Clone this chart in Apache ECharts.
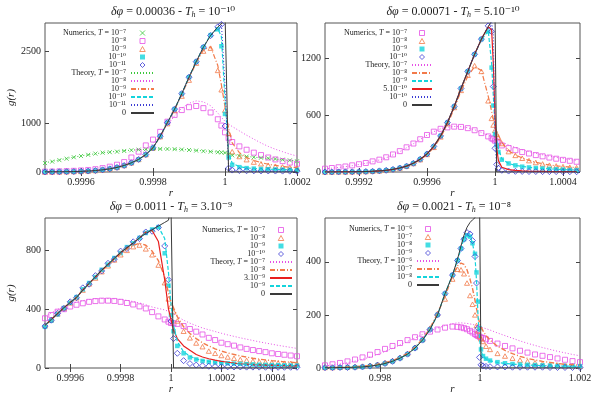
<!DOCTYPE html>
<html>
<head>
<meta charset="utf-8">
<script src="https://cdn.jsdelivr.net/npm/echarts@6/dist/echarts.min.js"></script>
</head>
<body style="margin:0;background:#fff">
<div id="main" style="width:599px;height:399px;"></div>
<script>
// ---- panel 1 : dphi = 0.00036 ----
var r1 = [0.99950,0.99952,0.99954,0.99956,0.99958,0.99960,0.99962,0.99964,0.99966,0.99968,
  0.99970,0.99972,0.99974,0.99976,0.99978,0.99980,0.99982,0.99984,0.99986,0.99988,
  0.99990,0.99992,0.99994,0.99996,0.99998,0.99999,1.00000,1.00001,
  1.00002,1.00004,1.00006,1.00008,1.00010,1.00012,1.00014,1.00016,1.00018,1.00020];
var num1_e7  = [185,215,245,275,305,330,355,380,400,410,420,435,450,462,470,475,477,476,472,465,455,443,430,420,410,405,398,370,345,330,318,305,295,283,270,255,240,222];
var num1_e8  = [8,10,14,18,24,32,42,58,80,110,150,205,300,420,550,670,830,1040,1180,1280,1340,1364,1320,1230,1090,960,820,700,620,530,460,400,350,300,260,225,195,170];
var num1_e9  = [2,3,4,6,9,13,20,30,45,65,95,135,190,260,360,500,730,1000,1270,1570,1900,2250,2500,2560,2100,1700,1280,800,420,320,255,205,170,140,120,105,90,80];
var num1_e10 = [2,3,4,6,9,13,20,30,45,65,95,135,190,260,360,500,740,1020,1300,1620,1960,2280,2580,2830,2950,2600,1200,300,150,100,80,70,62,57,53,50,47,45];
var num1_e11 = [2,3,4,6,9,13,20,30,45,65,95,135,190,260,360,500,740,1020,1300,1620,1960,2280,2580,2820,3000,3050,950,80,40,30,26,24,22,21,20,19,18,17];
var th1_e7  = [190,220,250,280,308,333,357,378,397,413,427,440,452,462,470,475,477,476,472,466,458,448,437,425,412,405,398,380,362,340,322,306,292,279,266,253,240,228];
var th1_e8  = [5,6,8,11,15,20,28,40,56,80,112,160,230,320,440,590,770,970,1160,1320,1420,1470,1450,1370,1220,1130,1050,990,940,850,760,680,600,530,470,420,370,330];
var th1_e9  = [2,3,4,6,9,13,20,30,45,65,95,135,190,260,360,500,735,1010,1290,1600,1930,2260,2520,2590,2200,1800,1350,900,600,400,300,240,195,160,135,115,100,88];
var th1_e10 = [2,3,4,6,9,13,20,30,45,65,95,135,190,260,360,500,740,1020,1300,1620,1960,2280,2580,2840,2960,2800,1500,400,180,110,85,72,64,58,54,50,47,45];
var th1_e11 = [2,3,4,6,9,13,20,30,45,65,95,135,190,260,360,500,740,1020,1300,1620,1960,2280,2580,2820,3000,3070,1800,80,25,18,16,15,14,13,12,12,11,11];
var th1_0   = [2,3,4,6,9,13,20,30,45,65,95,135,190,260,360,500,740,1020,1300,1620,1960,2280,2580,2820,3000,3060,3300,0,0,0,0,0,0,0,0,0,0,0];
var xt1 = [0.9996, 0.9998, 1, 1.0002];
var yt1 = [0, 1000, 2500];

// ---- panel 2 : dphi = 0.00071 ----
var r2 = [0.99900,0.99904,0.99908,0.99912,0.99916,0.99920,0.99924,0.99928,0.99932,0.99936,
  0.99940,0.99944,0.99948,0.99952,0.99956,0.99960,0.99964,0.99968,0.99972,0.99976,
  0.99980,0.99984,0.99988,0.99992,0.99996,0.99998,0.99999,1.00000,1.00001,1.00002,
  1.00004,1.00008,1.00012,1.00016,1.00020,1.00024,1.00028,1.00032,1.00036,1.00040,1.00044,1.00048];
var num2_e7  = [35,42,50,58,70,82,95,112,130,155,185,220,260,300,345,390,425,455,470,478,475,462,440,410,375,355,345,330,320,310,280,252,230,210,195,178,165,152,140,128,118,108];
var num2_e8  = [0,0,1,1,2,3,5,8,12,18,28,42,62,90,130,185,260,370,510,680,860,1020,1120,1060,750,565,495,440,400,365,300,215,175,145,120,100,85,72,64,57,51,46];
var num2_e9  = [0,0,1,1,2,3,5,8,12,18,28,42,62,92,135,190,270,380,520,690,880,1060,1240,1400,1480,1100,700,400,280,210,130,90,70,56,48,42,37,33,29,26,23,20];
var num2_e10 = [0,0,1,1,2,3,5,8,12,18,28,42,62,92,135,190,270,380,520,690,880,1060,1240,1400,1540,1480,900,250,80,40,18,10,7,6,5,5,4,4,4,3,3,3];
var th2_e7   = [33,40,48,56,67,79,92,108,127,150,180,215,255,298,343,388,425,455,472,480,478,466,445,418,388,372,365,357,350,343,315,285,258,235,215,197,181,167,154,142,131,121];
var th2_e8   = [0,0,1,1,2,3,5,8,12,18,28,42,62,90,128,182,258,365,500,670,850,1010,1110,1070,800,640,560,470,420,385,310,225,180,148,122,102,87,74,65,58,52,47];
var th2_e9   = [0,0,1,1,2,3,5,8,12,18,28,42,62,92,135,190,270,380,520,690,880,1060,1240,1390,1490,1150,800,500,330,250,140,90,70,58,50,43,38,33,29,26,23,20];
var th2_5e10 = [0,0,1,1,2,3,5,8,12,18,28,42,62,92,135,190,270,380,520,690,880,1060,1240,1400,1530,1500,1150,600,250,120,50,25,17,12,9,7,6,5,5,4,4,4];
var th2_e10  = [0,0,1,1,2,3,5,8,12,18,28,42,62,92,135,190,270,380,520,690,880,1060,1240,1400,1535,1585,1450,300,40,15,5,3,2,2,2,1,1,1,1,1,1,1];
var th2_0    = [0,0,1,1,2,3,5,8,12,18,28,42,62,92,135,190,270,380,520,690,880,1060,1240,1400,1530,1590,1620,1700,0,0,0,0,0,0,0,0,0,0,0,0,0,0];
var xt2 = [0.9992, 0.9996, 1, 1.0004];
var yt2 = [0, 600, 1200];

// ---- panel 3 : dphi = 0.0011 ----
var r3 = [0.999500,0.999525,0.999550,0.999575,0.999600,0.999625,0.999650,0.999675,0.999700,0.999725,
  0.999750,0.999775,0.999800,0.999825,0.999850,0.999875,0.999900,0.999925,0.999950,0.999975,
  0.99999,1.00000,1.00001,1.000025,
  1.000050,1.000075,1.000100,1.000125,1.000150,1.000175,1.000200,1.000225,1.000250,1.000275,
  1.000300,1.000325,1.000350,1.000375,1.000400,1.000425,1.000450,1.000475,1.000500];
var num3_e7  = [338,360,383,400,418,430,440,450,455,458,458,456,450,442,432,419,405,380,351,330,315,306,304,300,285,265,247,228,205,190,172,162,152,140,130,122,115,108,100,95,90,85,80];
var num3_e8  = [288,328,368,408,443,478,530,572,612,655,695,735,770,800,825,836,810,770,700,580,470,420,383,320,250,205,170,145,115,100,85,75,66,58,52,47,43,40,37,35,33,32,30];
var num3_e9  = [280,322,365,408,443,482,535,578,618,668,703,748,782,822,848,885,918,942,958,780,560,360,250,150,100,72,58,48,42,38,35,32,30,28,26,24,22,21,20,19,18,17,16];
var num3_e10 = [285,325,372,405,450,478,545,570,628,660,712,740,795,812,858,880,925,930,955,830,600,320,200,100,50,30,20,15,12,10,9,8,7,7,6,6,6,5,5,5,5,5,5];
var th3_e7   = [350,375,398,418,435,448,458,465,470,472,472,470,466,460,452,442,430,415,405,395,385,378,370,350,325,305,288,272,260,248,236,225,215,205,196,187,178,170,162,154,147,140,133];
var th3_e8   = [290,330,370,410,445,480,530,575,615,660,700,740,775,810,835,848,835,795,730,620,510,450,410,350,280,235,200,172,150,130,115,102,92,82,74,66,60,55,50,46,42,39,36];
var th3_3e9  = [290,330,370,410,445,480,530,575,620,665,705,745,785,818,850,885,925,935,860,600,400,330,258,200,150,120,92,75,63,53,45,39,33,29,26,23,21,19,18,17,16,15,14];
var th3_e9   = [290,330,370,410,445,480,530,575,620,665,705,745,785,818,850,885,920,945,960,880,650,430,290,180,110,80,62,52,45,40,36,32,29,27,25,23,21,20,19,18,17,16,15];
var th3_0    = [290,330,370,410,445,480,530,575,620,665,705,745,785,818,850,885,915,940,965,990,1005,1100,0,0,0,0,0,0,0,0,0,0,0,0,0,0,0,0,0,0,0,0,0];
var xt3 = [0.9996, 0.9998, 1, 1.0002, 1.0004];
var yt3 = [0, 400, 800];

// ---- panel 4 : dphi = 0.0021 ----
var r4 = [0.99690,0.99705,0.99720,0.99735,0.99750,0.99765,0.99780,0.99795,0.99810,0.99825,
  0.99840,0.99855,0.99870,0.99885,0.99900,0.99915,0.99930,0.99945,
  0.99955,0.99962,0.99968,0.99974,0.99980,0.99985,0.99990,0.99993,0.99996,0.99999,
  1.00002,1.00006,1.00012,1.00020,
  1.00035,1.00050,1.00065,1.00080,1.00095,1.00110,1.00125,1.00140,1.00155,1.00170,1.00185,1.00200];
var num4_e6 = [10,14,19,25,32,40,50,60,72,83,94,105,116,127,137,145,152,156,155,153,150,146,140,134,128,124,121,118,115,113,108,102,92,83,74,65,58,51,46,41,36,31,26,22];
var num4_e7 = [2,2,3,4,5,7,10,14,20,28,40,55,78,108,150,205,260,335,372,370,355,320,273,240,200,160,140,121,110,100,82,70,55,45,37,30,25,20,16,13,11,9,8,7];
var num4_e8 = [1,1,2,2,3,4,7,11,17,25,37,52,75,105,145,200,280,350,405,450,485,500,495,470,430,360,250,150,70,45,35,28,22,18,15,13,12,11,10,9,8,8,7,7];
var num4_e9 = [1,1,2,2,3,4,7,11,17,25,37,52,75,105,145,200,280,350,405,450,485,510,505,480,420,320,150,40,12,8,6,5,4,4,3,3,3,3,3,2,2,2,2,2];
var th4_e6  = [8,11,15,20,26,33,41,51,62,74,87,100,113,126,139,150,160,167,170,170,169,168,166,164,162,160,158,156,154,152,148,143,132,122,112,102,93,85,77,70,63,57,51,46];
var th4_e7  = [2,2,3,4,5,7,10,14,20,28,40,55,78,108,150,205,270,345,385,395,390,370,335,300,255,225,195,170,155,140,122,105,82,66,54,44,36,30,25,21,17,14,12,10];
var th4_e8  = [1,1,2,2,3,4,7,11,17,25,37,52,75,105,145,200,280,350,405,450,488,505,500,470,420,330,200,110,65,45,34,27,21,17,15,13,11,10,9,8,8,7,7,6];
var th4_0   = [1,1,2,2,3,4,7,11,17,25,37,52,75,105,145,200,280,350,410,460,500,530,548,558,566,580,600,650,0,0,0,0,0,0,0,0,0,0,0,0,0,0,0,0];
var xt4 = [0.998, 1, 1.002];
var yt4 = [0, 200, 400];

// ---- styling ----
var serif = '"Liberation Serif","DejaVu Serif",serif';
var col = {green:'#3cc83c', mag:'#e650e6', org:'#f27a4a', cyan:'#14d4dc', blue:'#3c3cd4', red:'#e81e1e', blk:'#3a3a3a'};
var marks = {
  cross:   {symbol:'path://M0,0L10,10M10,0L0,10', size:4, fill:false},
  square:  {symbol:'path://M0,0L10,0L10,10L0,10Z', size:5, fill:false},
  tri:     {symbol:'path://M5,0L10,9L0,9Z', size:5, fill:false},
  fsquare: {symbol:'path://M0,0L10,0L10,10L0,10Z', size:4.5, fill:true},
  diamond: {symbol:'path://M5,0L10,5L5,10L0,5Z', size:6, fill:false}
};
var dashes = {dot:[1,2], dash:[4,2], dashdot:[5,2,1,2], solid:'solid'};

var panels = [
  {box:{left:45, top:23, width:252, height:149}, x:[0.9995,1.0002], yMax:3080, xt:xt1, yt:yt1, yName:true,
   title:'{i|δφ} = 0.00036 - {i|T}{s|h} = 10⁻¹⁰', tx:173, ty:12, r:r1, leg:{right:444, top:29, w:23},
   num:[['n1a','Numerics, {i|T} = 10⁻⁷','cross',col.green,num1_e7],
        ['n1b','10⁻⁸','square',col.mag,num1_e8],
        ['n1c','10⁻⁹','tri',col.org,num1_e9],
        ['n1d','10⁻¹⁰','fsquare',col.cyan,num1_e10],
        ['n1e','10⁻¹¹','diamond',col.blue,num1_e11]],
   th:[['t1a','Theory, {i|T} = 10⁻⁷','dot',col.green,1,th1_e7],
       ['t1b','10⁻⁸','dot',col.mag,1,th1_e8],
       ['t1c','10⁻⁹','dashdot',col.org,1.2,th1_e9],
       ['t1d','10⁻¹⁰','dash',col.cyan,1.2,th1_e10],
       ['t1e','10⁻¹¹','dot',col.blue,1,th1_e11],
       ['t1f','0','solid',col.blk,1,th1_0]]},
  {box:{left:325, top:23, width:255, height:149}, x:[0.999,1.0005], yMax:1570, xt:xt2, yt:yt2, yName:false,
   title:'{i|δφ} = 0.00071 - {i|T}{s|h} = 5.10⁻¹⁰', tx:453, ty:12, r:r2, leg:{right:166, top:29, w:20},
   num:[['n2a','Numerics, {i|T} = 10⁻⁷','square',col.mag,num2_e7],
        ['n2b','10⁻⁸','tri',col.org,num2_e8],
        ['n2c','10⁻⁹','fsquare',col.cyan,num2_e9],
        ['n2d','10⁻¹⁰','diamond',col.blue,num2_e10]],
   th:[['t2a','Theory, 10⁻⁷','dot',col.mag,1,th2_e7],
       ['t2b','10⁻⁸','dashdot',col.org,1.2,th2_e8],
       ['t2c','10⁻⁹','dash',col.cyan,1.2,th2_e9],
       ['t2d','5.10⁻¹⁰','solid',col.red,1.2,th2_5e10],
       ['t2e','10⁻¹⁰','dot',col.blue,1,th2_e10],
       ['t2f','0','solid',col.blk,1,th2_0]]},
  {box:{left:45, top:218, width:252, height:150}, x:[0.9995,1.0005], yMax:1020, xt:xt3, yt:yt3, yName:true,
   title:'{i|δφ} = 0.0011 - {i|T}{s|h} = 3.10⁻⁹', tx:171, ty:207, r:r3, leg:{right:306, top:226, w:22},
   num:[['n3a','Numerics, {i|T} = 10⁻⁷','square',col.mag,num3_e7],
        ['n3b','10⁻⁸','tri',col.org,num3_e8],
        ['n3c','10⁻⁹','fsquare',col.cyan,num3_e9],
        ['n3d','10⁻¹⁰','diamond',col.blue,num3_e10]],
   th:[['t3a','Theory, {i|T} = 10⁻⁷','dot',col.mag,1,th3_e7],
       ['t3b','10⁻⁸','dashdot',col.org,1.4,th3_e8],
       ['t3c','3.10⁻⁹','solid',col.red,1.2,th3_3e9],
       ['t3d','10⁻⁹','dash',col.cyan,1.2,th3_e9],
       ['t3e','0','solid',col.blk,1,th3_0]]},
  {box:{left:325, top:218, width:255, height:150}, x:[0.9969,1.002], yMax:565, xt:xt4, yt:yt4, yName:false,
   title:'{i|δφ} = 0.0021 - {i|T}{s|h} = 10⁻⁸', tx:454, ty:207, r:r4, leg:{right:159, top:225, w:22},
   num:[['n4a','Numerics, {i|T} = 10⁻⁶','square',col.mag,num4_e6],
        ['n4b','10⁻⁷','tri',col.org,num4_e7],
        ['n4c','10⁻⁸','fsquare',col.cyan,num4_e8],
        ['n4d','10⁻⁹','diamond',col.blue,num4_e9]],
   th:[['t4a','Theory, {i|T} = 10⁻⁶','dot',col.mag,1,th4_e6],
       ['t4b','10⁻⁷','dashdot',col.org,1.4,th4_e7],
       ['t4c','10⁻⁸','dash',col.cyan,1.2,th4_e8],
       ['t4d','0','solid',col.blk,1,th4_0]]}
];

function pairs(r, g) { return r.map(function (x, i) { return [x, g[i]]; }); }
function fmt(v) { return String(+v.toFixed(4)); }

var grids = [], xAxes = [], yAxes = [], series = [], legends = [], graphics = [], labels = {};
var tickStyle = {show:true, inside:true, length:4, lineStyle:{color:'#444', width:1}};

panels.forEach(function (p, gi) {
  grids.push(Object.assign({show:true, borderColor:'#555', borderWidth:1, backgroundColor:'#fff'}, p.box));
  xAxes.push({type:'value', gridIndex:gi, min:p.x[0], max:p.x[1], position:'bottom',
    axisLine:{show:false}, splitLine:{show:false},
    axisTick:Object.assign({customValues:p.xt}, tickStyle),
    axisLabel:{customValues:p.xt, formatter:fmt, fontFamily:serif, fontSize:10, color:'#222', margin:5},
    name:'r', nameLocation:'middle', nameGap:13,
    nameTextStyle:{fontFamily:serif, fontSize:11, fontStyle:'italic', color:'#222'}});
  xAxes.push({type:'value', gridIndex:gi, min:p.x[0], max:p.x[1], position:'top',
    axisLine:{show:false}, splitLine:{show:false}, axisLabel:{show:false},
    axisTick:Object.assign({customValues:p.xt}, tickStyle)});
  yAxes.push({type:'value', gridIndex:gi, min:0, max:p.yMax, position:'left',
    axisLine:{show:false}, splitLine:{show:false},
    axisTick:Object.assign({customValues:p.yt}, tickStyle),
    axisLabel:{customValues:p.yt, formatter:function (v) { return String(v); },
      fontFamily:serif, fontSize:10, color:'#222', margin:4},
    name:p.yName ? 'g(r)' : '', nameLocation:'middle', nameGap:28,
    nameTextStyle:{fontFamily:serif, fontSize:11, fontStyle:'italic', color:'#222'}});
  yAxes.push({type:'value', gridIndex:gi, min:0, max:p.yMax, position:'right',
    axisLine:{show:false}, splitLine:{show:false}, axisLabel:{show:false},
    axisTick:Object.assign({customValues:p.yt}, tickStyle)});

  var names = [];
  p.num.forEach(function (n) {
    var m = marks[n[2]];
    labels[n[0]] = n[1];
    names.push({name:n[0]});
    series.push({type:'scatter', name:n[0], xAxisIndex:2 * gi, yAxisIndex:2 * gi,
      symbol:m.symbol, symbolSize:m.size, symbolKeepAspect:true, z:2,
      itemStyle:m.fill ? {color:n[3]} : {color:'transparent', borderColor:n[3], borderWidth:1},
      data:pairs(p.r, n[4])});
  });
  p.th.forEach(function (t) {
    labels[t[0]] = t[1];
    names.push({name:t[0], itemStyle:{opacity:0}});
    series.push({type:'line', name:t[0], xAxisIndex:2 * gi, yAxisIndex:2 * gi,
      symbol:'none', showSymbol:false, z:3, clip:true,
      lineStyle:{color:t[3], width:t[4], type:dashes[t[2]]},
      itemStyle:{color:t[3]},
      data:pairs(p.r, t[5])});
  });
  legends.push({orient:'vertical', align:'right', right:p.leg.right, top:p.leg.top,
    itemWidth:p.leg.w, itemHeight:5, itemGap:0, padding:0, selectedMode:false,
    symbolKeepAspect:true,
    data:names, formatter:function (n) { return labels[n]; },
    itemStyle:{borderWidth:1},
    textStyle:{fontFamily:serif, fontSize:8, color:'#222', lineHeight:7.7,
      rich:{i:{fontFamily:serif, fontSize:8, fontStyle:'italic', color:'#222', lineHeight:7.7}}}});
  graphics.push({type:'text', x:p.tx, y:p.ty, z:10,
    style:{text:p.title, align:'center', verticalAlign:'middle', fill:'#222',
      fontFamily:serif, fontSize:12,
      rich:{i:{fontFamily:serif, fontSize:12, fontStyle:'italic', fill:'#222'},
            s:{fontFamily:serif, fontSize:8, fontStyle:'italic', fill:'#222', padding:[6, 0, 0, 0]}}}});
});

var chart = echarts.init(document.getElementById('main'));
chart.setOption({
  animation:false,
  backgroundColor:'#fff',
  grid:grids, xAxis:xAxes, yAxis:yAxes, legend:legends, series:series, graphic:graphics
});
</script>
</body>
</html>
